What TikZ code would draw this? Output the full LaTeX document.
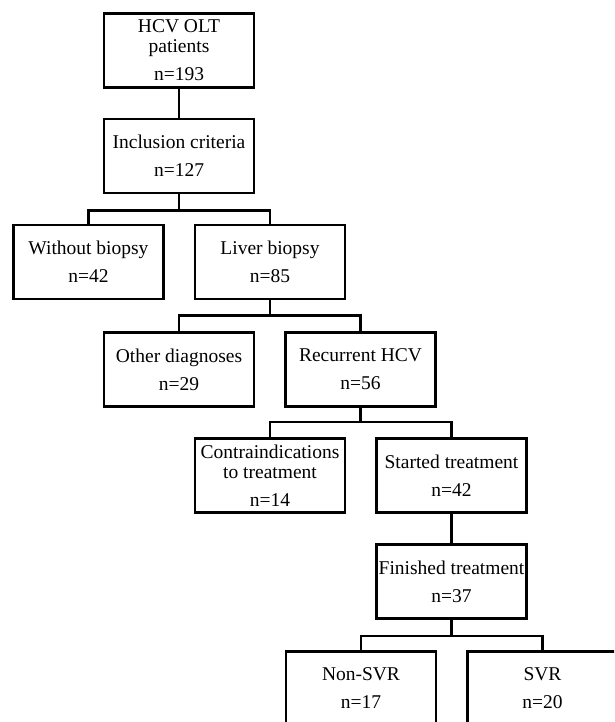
\documentclass[tikz,border=0pt]{standalone}
\usepackage{fontspec}
\setmainfont{Liberation Serif}
\begin{document}
\begin{tikzpicture}[x=1pt,y=-1pt,
  box/.style={draw=black,line width=2.6pt,minimum width=150pt,minimum height=74pt,
    inner sep=0pt,align=center,font=\fontsize{19.5}{20}\selectfont},
  conn/.style={draw=black,line width=2.6pt,line join=miter}]
\useasboundingbox (0,0) rectangle (614,722);
\fill[white] (0,0) rectangle (614,722);
\clip (0,0) rectangle (614,722);
\node[box] (hcv) at (179,50.5) {HCV OLT\\ patients\\[8pt] n=193};
\node[box] (inc) at (179,156) {Inclusion criteria\\[8pt] n=127};
\node[box] (wob) at (88.5,262) {Without biopsy\\[8pt] n=42};
\node[box] (lb) at (270,262) {Liver biopsy\\[8pt] n=85};
\node[box] (oth) at (179,369.5) {Other diagnoses\\[8pt] n=29};
\node[box] (rec) at (360.5,369.5) {Recurrent HCV\\[8pt] n=56};
\node[box] (con) at (270,475.5) {Contraindications\\ to treatment\\[8pt] n=14};
\node[box] (sta) at (451.5,475.5) {Started treatment\\[8pt] n=42};
\node[box] (fin) at (451.5,581.5) {Finished treatment\\[8pt] n=37};
\node[box] (non) at (361,688.5) {Non-SVR\\[8pt] n=17};
\node[box] (svr) at (542.5,688.5) {SVR\\[8pt] n=20};
\draw[conn] (hcv.south) -- (inc.north);
\draw[conn] (inc.south) -- ++(0,16) coordinate (j1);
\draw[conn] (wob.north) |- (j1) -| (lb.north);
\draw[conn] (lb.south) -- ++(0,15) coordinate (j2);
\draw[conn] (oth.north) |- (j2) -| (rec.north);
\draw[conn] (rec.south) -- ++(0,14) coordinate (j3);
\draw[conn] (con.north) |- (j3) -| (sta.north);
\draw[conn] (sta.south) -- (fin.north);
\draw[conn] (fin.south) -- ++(0,16) coordinate (j4);
\draw[conn] (non.north) |- (j4) -| (svr.north);
\end{tikzpicture}
\end{document}
